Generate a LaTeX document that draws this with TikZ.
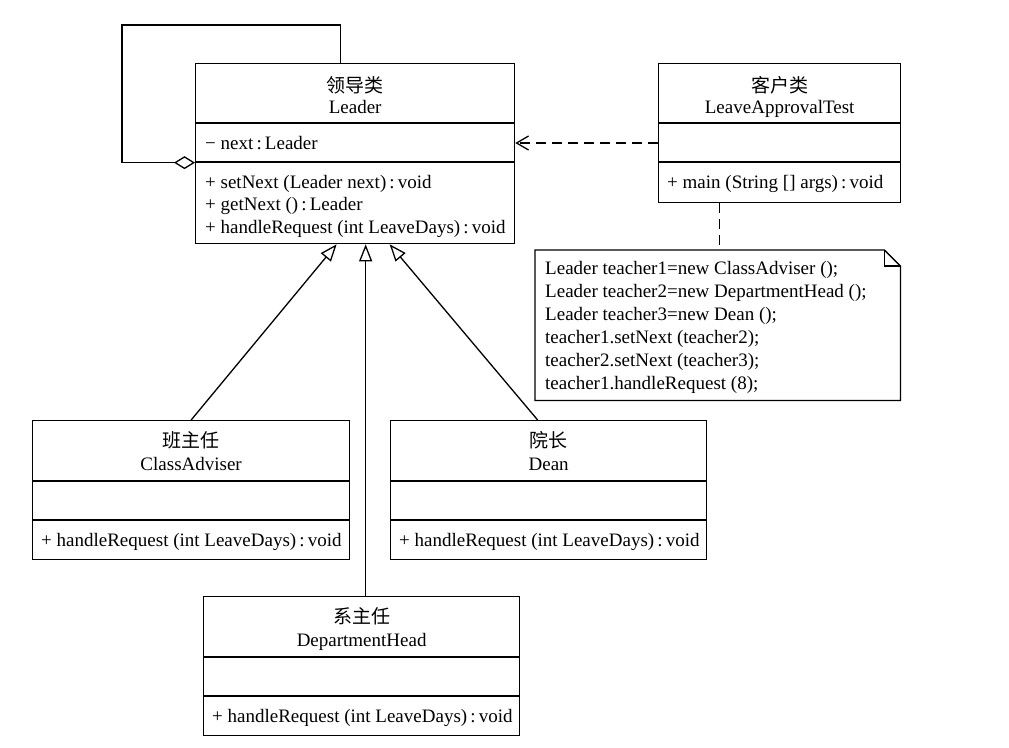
\documentclass[tikz,border=0pt]{standalone}
\usepackage{fontspec}
\setmainfont{Liberation Serif}
\newfontfamily\cjk{Noto Sans CJK SC}
\usetikzlibrary{
    arrows.meta,
    positioning
}
\newcommand{\umlfont}{\fontsize{19}{23}\selectfont}
\newcommand{\ty}{\,:\,}
\tikzset{
    classbox/.style={draw, line width=1.3pt, inner sep=0pt, anchor=north west},
    sepline/.style={line width=1.3pt},
    member/.style={anchor=base west, inner sep=0pt, font=\umlfont},
    classname/.style={anchor=base, inner sep=0pt, font=\umlfont},
    cntitle/.style={anchor=base, inner sep=0pt, font=\cjk\fontsize{19}{22}\selectfont},
    inherit/.style={-{Triangle[open, length=17pt, width=13pt]}, line width=1.3pt},
    depend/.style={-{Straight Barb[length=12pt, width=14pt]}, line width=1.3pt,
        dash pattern=on 10pt off 6pt},
    notelink/.style={line width=1.3pt, dash pattern=on 10pt off 6pt},
    aggregate/.style={-{Diamond[open, length=21pt, width=13pt]}, line width=1.3pt}
}

\begin{document}
\begin{tikzpicture}[x=1pt, y=-1pt]
    \useasboundingbox (0,0) rectangle (1009,747);

    % abstract handler
    \node[classbox, minimum width=319pt, minimum height=180pt] (leader) at (195,63) {};
    \foreach \dy in {60,99}
        \draw[sepline] ([yshift=-\dy pt]leader.north west) -- ([yshift=-\dy pt]leader.north east);
    \node[cntitle] (leadercn) at ([yshift=-29pt]leader.north) {领导类};
    \node[classname] (leaderen) at ([yshift=-50pt]leader.north) {Leader};
    \node[member] (leaderattr) at ([xshift=10pt, yshift=-86pt]leader.north west) {− next\ty Leader};
    \foreach \txt [count=\i] in {{+ setNext (Leader next)\ty void},{+ getNext ()\ty Leader},{+ handleRequest (int LeaveDays)\ty void}}
        \node[member] (leaderop\i) at ([xshift=10pt, yshift={-(125+22.5*(\i-1))*1pt}]leader.north west) {\txt};

    % client
    \node[classbox, minimum width=242pt, minimum height=139pt] (client) at (658,63) {};
    \foreach \dy in {60,99}
        \draw[sepline] ([yshift=-\dy pt]client.north west) -- ([yshift=-\dy pt]client.north east);
    \node[cntitle] (clientcn) at ([yshift=-29pt]client.north) {客户类};
    \node[classname] (clienten) at ([yshift=-50pt]client.north) {LeaveApprovalTest};
    \node[member] (clientop) at ([xshift=9pt, yshift=-125pt]client.north west) {+ main (String [] args)\ty void};

    % concrete handlers
    \foreach \nm/\lx/\tp/\w/\cn/\en in {adviser/32/420/317/班主任/ClassAdviser,
        dean/390/420/316/院长/Dean, depthead/203/596/316/系主任/DepartmentHead}{
        \node[classbox, minimum width=\w pt, minimum height=139pt] (\nm) at (\lx,\tp) {};
        \foreach \dy in {61,100}
            \draw[sepline] ([yshift=-\dy pt]\nm.north west) -- ([yshift=-\dy pt]\nm.north east);
        \node[cntitle] (\nm cn) at ([yshift=-27pt]\nm.north) {\cn};
        \node[classname] (\nm en) at ([yshift=-50pt]\nm.north) {\en};
        \node[member] (\nm op) at ([xshift=9pt, yshift=-126pt]\nm.north west) {+ handleRequest (int LeaveDays)\ty void};
    }

    % note
    \node[inner sep=0pt, anchor=north west, minimum width=365pt, minimum height=150pt] (note) at (535,250) {};
    \draw[sepline] (note.north west) -- ([xshift=-16pt]note.north east) -- ([yshift=-16pt]note.north east)
        -- (note.south east) -- (note.south west) -- cycle;
    \draw[sepline] ([xshift=-16pt]note.north east) |- ([yshift=-16pt]note.north east);
    \foreach \txt [count=\i] in {{Leader teacher1=new ClassAdviser ();},{Leader teacher2=new DepartmentHead ();},
        {Leader teacher3=new Dean ();},{teacher1.setNext (teacher2);},{teacher2.setNext (teacher3);},
        {teacher1.handleRequest (8);}}
        \node[member] (noteline\i) at ([xshift=10pt, yshift={-(24+23*(\i-1))*1pt}]note.north west) {\txt};

    % connectors
    \coordinate (tipa) at ([xshift=-18.5pt]leader.south);
    \coordinate (tipb) at ([xshift=10.5pt]leader.south);
    \coordinate (tipc) at ([xshift=34.5pt]leader.south);
    \draw[inherit] (adviser.north) -- (tipa);
    \draw[inherit] (depthead.north -| tipb) -- (tipb);
    \draw[inherit] ([xshift=-11pt]dean.north) -- (tipc);
    \draw[depend] ([yshift=-80pt]client.north west) -- ([yshift=-80pt]leader.north east);
    \draw[notelink] ([xshift=-60pt]client.south) -- ([xshift=-60pt]client.south |- note.north);
    \draw[aggregate] ([xshift=-14.5pt]leader.north) |- (122,25) |- ([yshift=-9pt]leader.west);
\end{tikzpicture}
\end{document}
